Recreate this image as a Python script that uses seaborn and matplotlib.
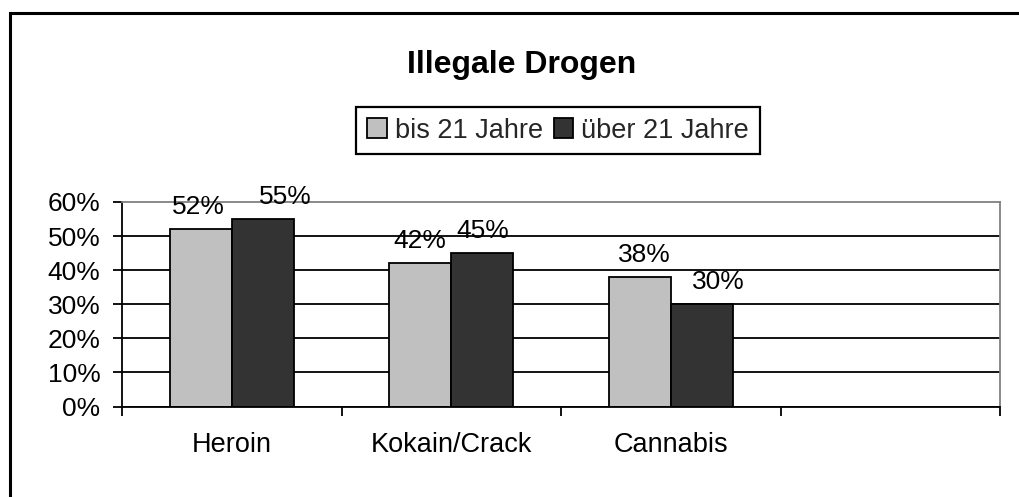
import matplotlib
matplotlib.use("Agg")
import matplotlib.pyplot as plt
from matplotlib.patches import Patch, Rectangle
import seaborn as sns
import pandas as pd

# ---- data ----
categories = ["Heroin", "Kokain/Crack", "Cannabis"]
groups = ["bis 21 Jahre", "über 21 Jahre"]
bis_21 = [0.52, 0.42, 0.38]
ueber_21 = [0.55, 0.45, 0.30]
value_labels = [["52%", "42%", "38%"], ["55%", "45%", "30%"]]
y_ticks = [0.0, 0.1, 0.2, 0.3, 0.4, 0.5, 0.6]
y_tick_labels = ["0%", "10%", "20%", "30%", "40%", "50%", "60%"]
title = "Illegale Drogen"

# ---- style ----
colors = ["#C0C0C0", "#333333"]
label_dx_pt = [[-2, 0, 3], [16.5, 0, 12]]  # horizontal nudges of the value labels

sns.set_style("white")
plt.rcParams["font.family"] = ["Liberation Sans", "DejaVu Sans"]

df = pd.DataFrame({
    "Droge": categories * 2,
    "Gruppe": [groups[0]] * len(categories) + [groups[1]] * len(categories),
    "Anteil": bis_21 + ueber_21,
})

W, H = 1020, 497
fig = plt.figure(figsize=(W / 100, H / 100), dpi=100)
ax = fig.add_axes([122 / W, 1 - 406.5 / H, 878 / W, 204.5 / H])

sns.barplot(data=df, x="Droge", y="Anteil", hue="Gruppe", order=categories,
            hue_order=groups, palette=colors, saturation=1, width=0.565,
            edgecolor="black", linewidth=1.3, errorbar=None, legend=False, ax=ax)

ax.set_xlim(-0.5, 3.5)
ax.set_ylim(0, 0.6)
ax.set_xlabel("")
ax.set_ylabel("")

# y axis
ax.set_yticks(y_ticks)
ax.set_yticklabels(y_tick_labels)
ax.tick_params(axis="y", which="major", left=True, length=6.5, width=1.3,
               direction="out", pad=9, labelsize=19, color="black", labelcolor="black")

# x axis
ax.set_xticks(range(len(categories)))
ax.set_xticklabels(categories)
ax.set_xticks([i - 0.5 for i in range(len(categories) + 2)], minor=True)
ax.tick_params(axis="x", which="major", bottom=True, length=0, pad=18,
               labelsize=19.5, labelcolor="black")
ax.tick_params(axis="x", which="minor", bottom=True, length=6.5, width=1.3,
               direction="out", color="black")

# grid
ax.set_axisbelow(True)
ax.yaxis.grid(True, color="black", linewidth=1.3)
ax.xaxis.grid(False)
gl = ax.yaxis.get_gridlines()
gl[-1].set_visible(False)

for side in ["left", "bottom"]:
    ax.spines[side].set_visible(True)
    ax.spines[side].set_color("black")
    ax.spines[side].set_linewidth(1.3)
for side in ["top", "right"]:
    ax.spines[side].set_visible(True)
    ax.spines[side].set_color("#808080")
    ax.spines[side].set_linewidth(1.3)

# value labels
for gi, cont in enumerate(ax.containers):
    for bi, bar in enumerate(cont):
        x = bar.get_x() + bar.get_width() / 2
        y = bar.get_height()
        ax.annotate(value_labels[gi][bi], (x, y),
                    xytext=(label_dx_pt[gi][bi], 10.8), textcoords="offset points",
                    ha="center", va="baseline", fontsize=19, color="black",
                    annotation_clip=False)

# legend
handles = [Patch(facecolor=c, edgecolor="black", linewidth=1.3, label=g)
           for c, g in zip(colors, groups)]
leg = fig.legend(handles=handles, loc="center", bbox_to_anchor=(558 / W, 1 - 130.5 / H),
                 ncol=2, frameon=True, fancybox=False, edgecolor="black", framealpha=1,
                 fontsize=19.5, handlelength=0.72, handleheight=0.72, handletextpad=0.3,
                 columnspacing=0.4, borderpad=0.4, borderaxespad=0)
leg.get_frame().set_linewidth(1.6)

# title
fig.text(521.5 / W, 1 - 73 / H, title, ha="center", va="baseline",
         fontsize=23, fontweight="bold", color="black")

# outer chart border (extends beyond right/bottom edge)
fig.add_artist(Rectangle((10 / W, -0.1), 1.2, (1 - 13 / H) + 0.1,
                         transform=fig.transFigure, fill=False,
                         edgecolor="black", linewidth=2.2, clip_on=False))

fig.savefig("out.png", dpi=100)
